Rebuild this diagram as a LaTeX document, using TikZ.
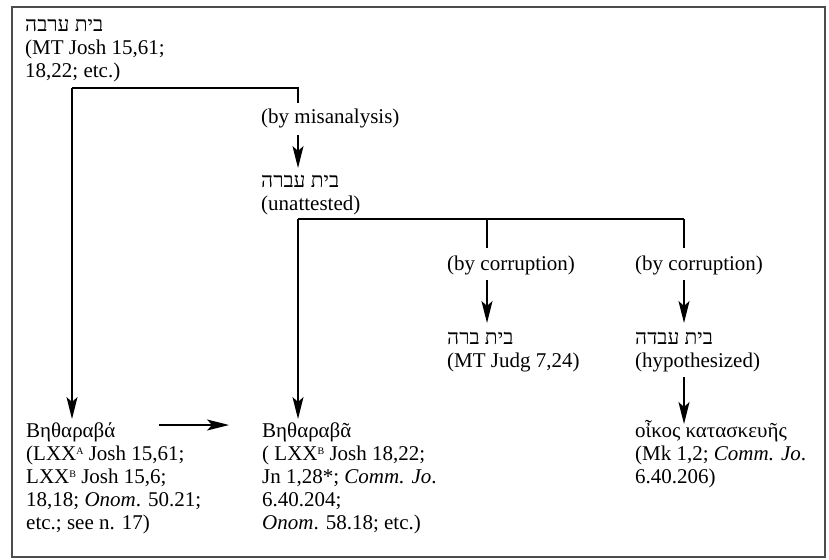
\documentclass[tikz,border=0pt]{standalone}
\usepackage{fontspec}
\setmainfont{Liberation Serif}
\newfontfamily\heb[Script=Hebrew]{Liberation Serif}
\newfontfamily\grk[Script=Greek]{Liberation Serif}
\TeXXeTstate=1
\usetikzlibrary{arrows.meta}
\newcommand{\supA}[1]{\raisebox{0.55ex}{\fontsize{10}{10}\selectfont #1}}
\newcommand{\hb}[1]{{\heb\beginR #1\endR}}
\begin{document}
\begin{tikzpicture}[x=1pt,y=-1pt,
  txt/.style={anchor=base west, inner sep=0pt, align=left, font=\fontsize{21}{23}\selectfont},
  conn/.style={line width=1.3pt},
  arr/.style={conn, -{Stealth[length=22pt,width=11pt,inset=5pt]}}]
\useasboundingbox (0,0) rectangle (829,559);
\draw[line width=2.2pt, draw=black!70] (12,7) rectangle (825,557);

% nodes (anchor = baseline of last line)
\node[txt] (A) at (25,78) {\hb{בית ערבה}\\(MT Josh 15,61;\\18,22; etc.)};
\node[txt] (mis) at (261,124) {(by misanalysis)};
\node[txt] (B) at (261,210) {\hb{בית עברה}\\(unattested)};
\node[txt] (c1) at (447,270) {(by corruption)};
\node[txt] (c2) at (635,270) {(by corruption)};
\node[txt] (C) at (447,367) {\hb{בית ברה}\\(MT Judg 7,24)};
\node[txt] (D) at (635,367) {\hb{בית עבדה}\\(hypothesized)};
\node[txt] (E) at (26,529) {{\grk Βηθαραβά}\\(LXX\supA{A} Josh 15,61;\\LXX\supA{B} Josh 15,6;\\18,18; \textit{Onom}. 50.21;\\etc.; see n. 17)};
\node[txt] (F) at (262,529) {{\grk Βηθαραβᾶ}\\( LXX\supA{B} Josh 18,22;\\Jn 1,28*; \textit{Comm. Jo}.\\6.40.204;\\\textit{Onom}. 58.18; etc.)};
\node[txt] (G) at (635,483) {{\grk οἶκος κατασκευῆς}\\(Mk 1,2; \textit{Comm. Jo}.\\6.40.206)};

% junction coordinates
\coordinate (a1) at (72,88);
\coordinate (a2) at (298,88);
\coordinate (a3) at (298,103);
\coordinate (m1) at (298,135);
\coordinate (m2) at (298,168);
\coordinate (b1) at (298,219);
\coordinate (b2) at (487,219);
\coordinate (b3) at (684,219);
\coordinate (b4) at (487,248);
\coordinate (b5) at (684,248);
\coordinate (c1a) at (487,280);
\coordinate (c1b) at (487,323);
\coordinate (c2a) at (684,280);
\coordinate (c2b) at (684,323);
\coordinate (d1) at (684,377);
\coordinate (d2) at (684,424);
\coordinate (e1) at (72,419);
\coordinate (f1) at (298,419);
\coordinate (h1) at (159,425);
\coordinate (h2) at (229,425);

% connectors
\draw[conn] (a3) -- (a2) -- (a1);
\draw[arr] (a1) -- (e1);
\draw[arr] (m1) -- (m2);
\draw[conn] (b3) -- (b1);
\draw[arr] (b1) -- (f1);
\draw[conn] (b2) -- (b4);
\draw[conn] (b3) -- (b5);
\draw[arr] (c1a) -- (c1b);
\draw[arr] (c2a) -- (c2b);
\draw[arr] (d1) -- (d2);
\draw[arr] (h1) -- (h2);
\end{tikzpicture}
\end{document}
